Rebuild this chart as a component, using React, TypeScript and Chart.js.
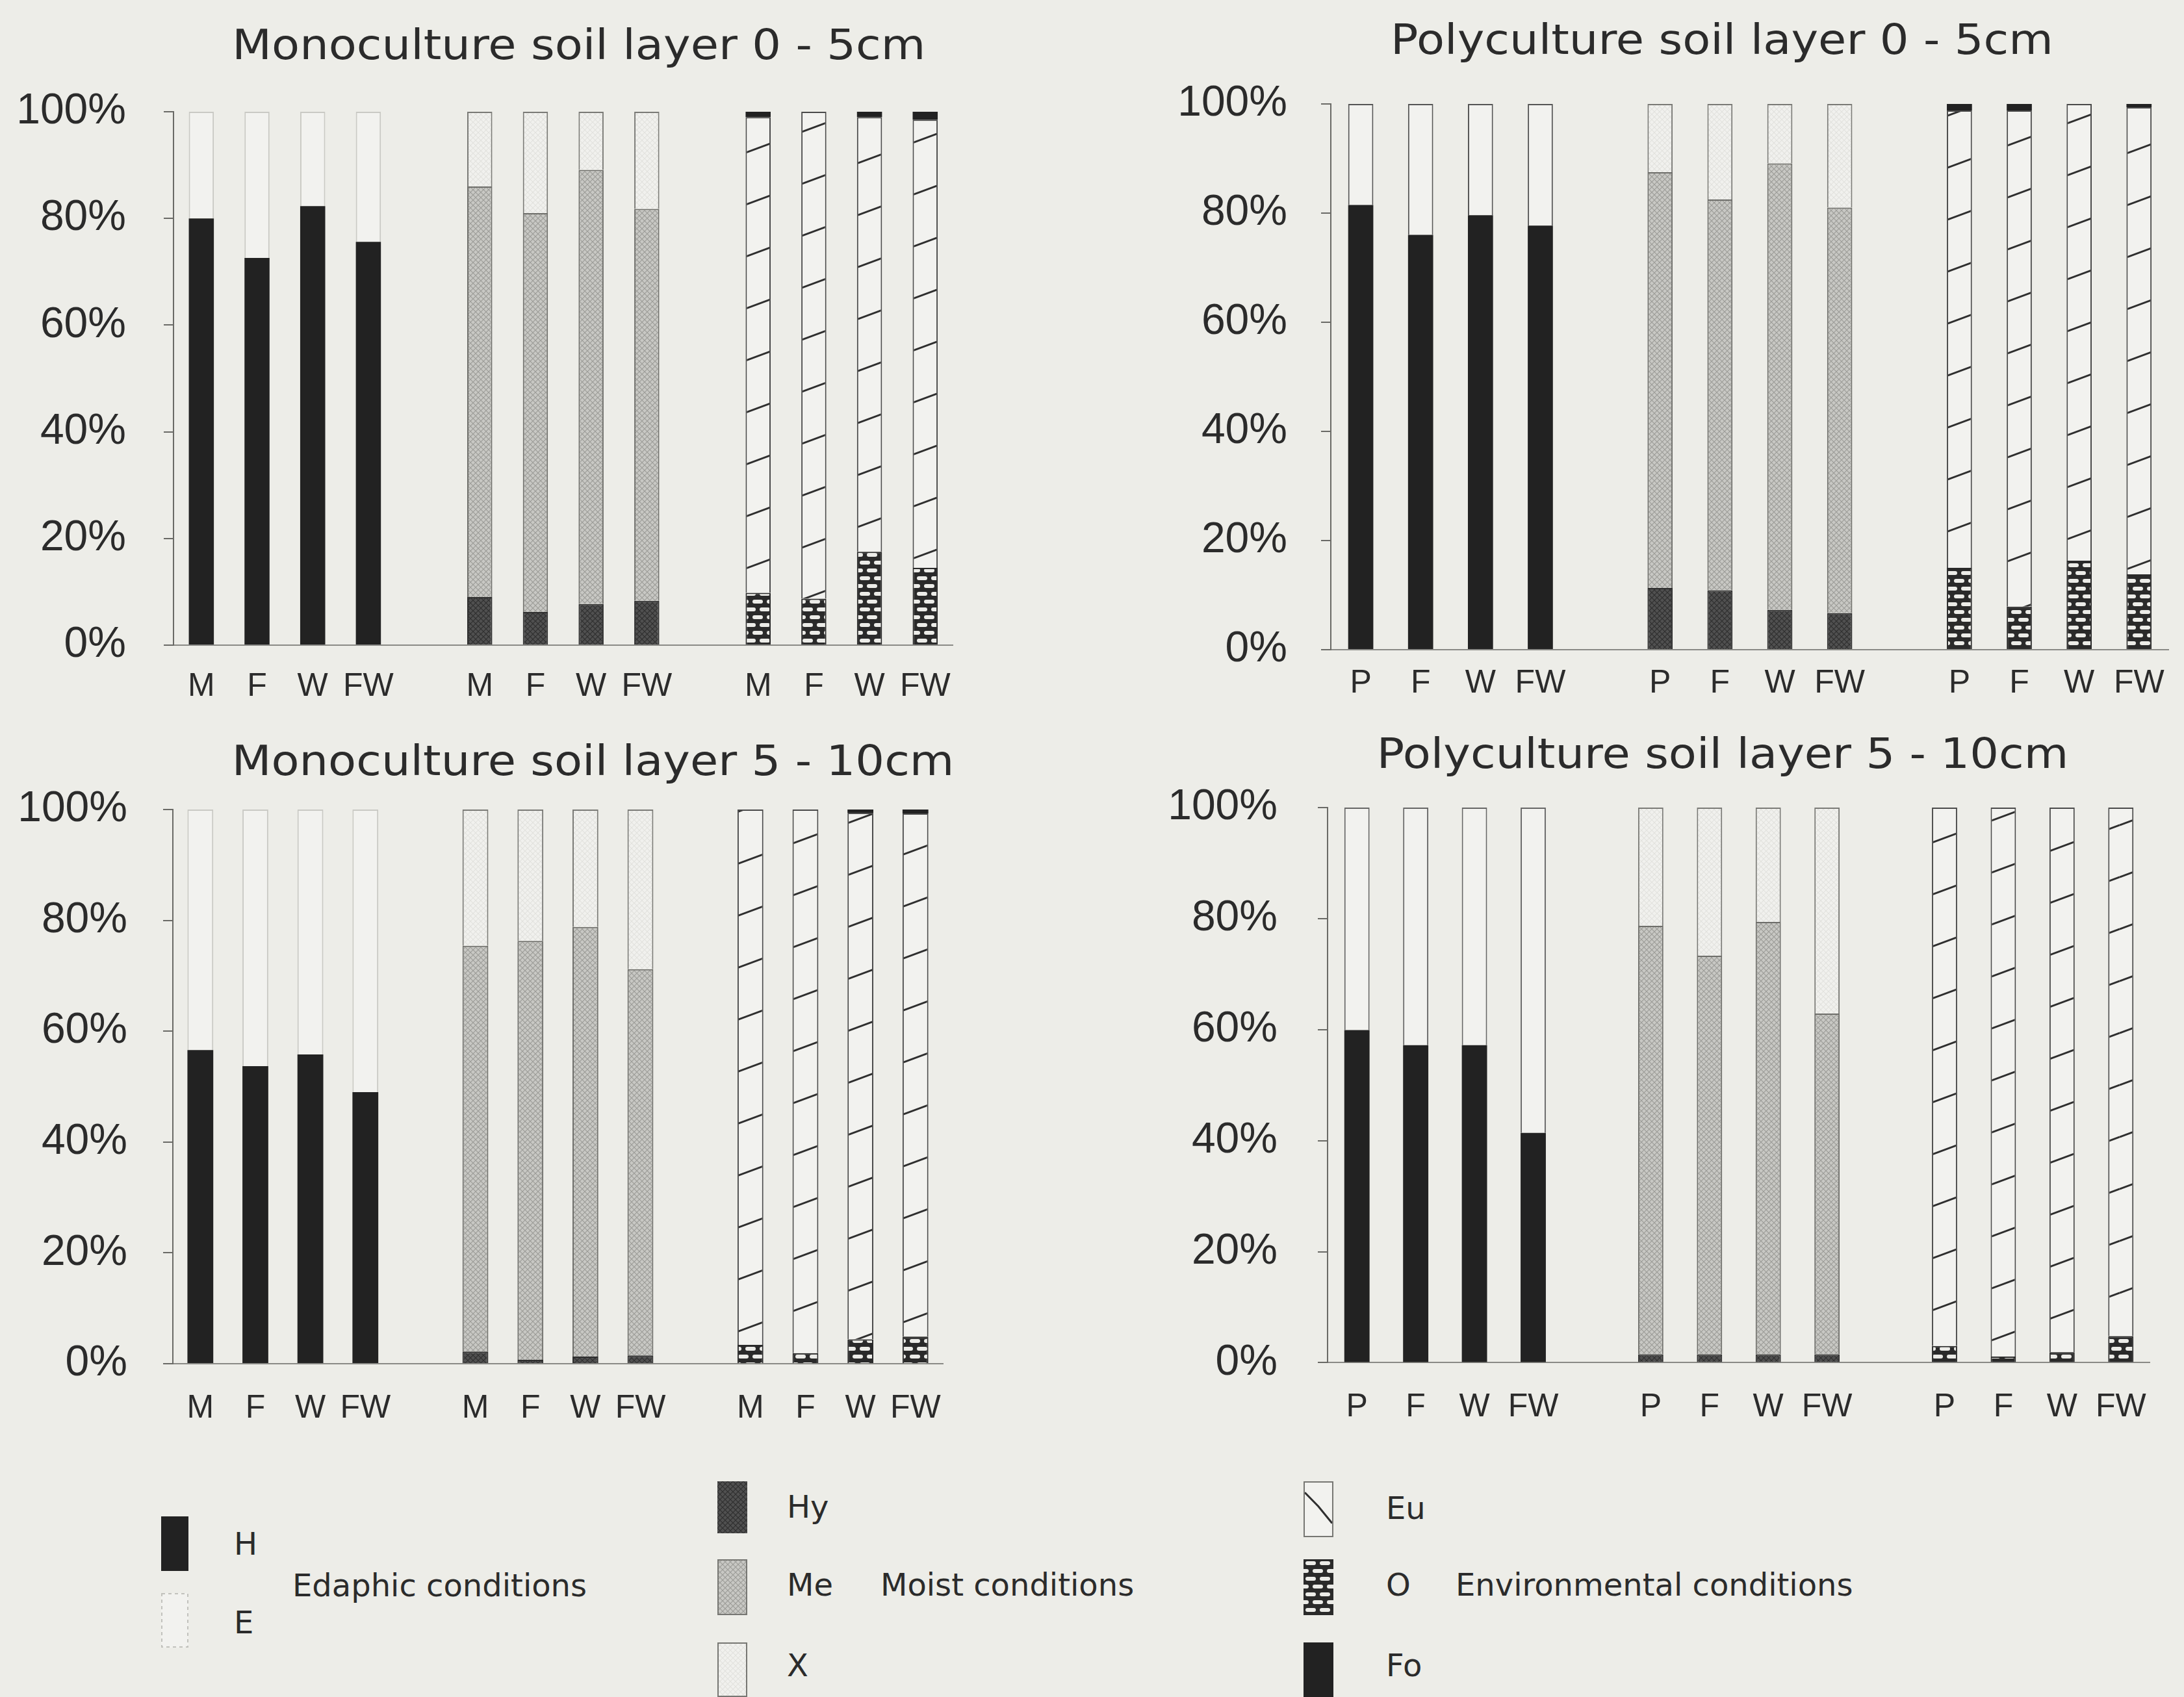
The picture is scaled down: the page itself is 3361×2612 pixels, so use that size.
import React, { useEffect, useRef } from 'react';
import { Chart, registerables } from 'chart.js';

Chart.register(...registerables);

// ---------------- data (percent of species) ----------------
const monoCats = ['M', 'F', 'W', 'FW'];
const polyCats = ['P', 'F', 'W', 'FW'];
const yTicks = [0, 20, 40, 60, 80, 100];

// Monoculture soil layer 0 - 5cm
const mono05H = [80.0, 72.6, 82.3, 75.6];
const mono05E = [20.0, 27.4, 17.7, 24.4];
const mono05Hy = [9.0, 6.2, 7.7, 8.3];
const mono05Me = [77.0, 74.8, 81.4, 73.5];
const mono05X = [14.0, 19.0, 10.9, 18.2];
const mono05O = [9.8, 8.7, 17.5, 14.5];
const mono05Eu = [89.2, 91.3, 81.5, 84.0];
const mono05Fo = [1.0, 0, 1.0, 1.5];

// Polyculture soil layer 0 - 5cm
const poly05H = [81.5, 76.0, 79.6, 77.7];
const poly05E = [18.5, 24.0, 20.4, 22.3];
const poly05Hy = [11.3, 10.9, 7.3, 6.7];
const poly05Me = [76.2, 71.6, 81.8, 74.3];
const poly05X = [12.5, 17.5, 10.9, 19.0];
const poly05O = [15.0, 7.9, 16.3, 13.8];
const poly05Eu = [83.8, 90.9, 83.7, 85.6];
const poly05Fo = [1.2, 1.2, 0, 0.6];

// Monoculture soil layer 5 - 10cm
const mono510H = [56.6, 53.7, 55.8, 49.0];
const mono510E = [43.4, 46.3, 44.2, 51.0];
const mono510Hy = [2.2, 0.7, 1.3, 1.5];
const mono510Me = [73.2, 75.6, 77.5, 69.7];
const mono510X = [24.6, 23.7, 21.2, 28.8];
const mono510O = [3.4, 1.9, 4.4, 4.9];
const mono510Eu = [96.6, 98.1, 95.0, 94.4];
const mono510Fo = [0, 0, 0.6, 0.7];

// Polyculture soil layer 5 - 10cm
const poly510H = [59.9, 57.2, 57.2, 41.4];
const poly510E = [40.1, 42.8, 42.8, 58.6];
const poly510Hy = [1.5, 1.5, 1.5, 1.5];
const poly510Me = [77.2, 71.8, 77.9, 61.4];
const poly510X = [21.3, 26.7, 20.6, 37.1];
const poly510O = [3.0, 1.1, 1.9, 4.8];
const poly510Eu = [97.0, 98.9, 98.1, 95.2];
const poly510Fo = [0, 0, 0, 0];

// ---------------- styles ----------------
const BG = '#edede8';
const INK = '#2b2b2b';
const BLACK = '#222222';
const WHITE = '#f2f2ef';

type Series = { H: number[]; E: number[]; Hy: number[]; Me: number[]; X: number[]; O: number[]; Eu: number[]; Fo: number[] };
type Layout = {
  left: number; top: number; width: number; height: number;
  yW: number; padTop: number; padRight: number; barPct: number;
  yPad: number; xPad: number; titleDx: number; titleRise: number; eBorder: string;
};
type Panel = { title: string; cats: string[]; s: Series; lay: Layout };

const PANELS: Panel[] = [
  {
    title: 'Monoculture soil layer 0 - 5cm', cats: monoCats,
    s: { H: mono05H, E: mono05E, Hy: mono05Hy, Me: mono05Me, X: mono05X, O: mono05O, Eu: mono05Eu, Fo: mono05Fo },
    lay: { left: 0, top: 20, width: 1497, height: 1073, yW: 267, padTop: 152, padRight: 10, barPct: 0.45, yPad: 58, xPad: 34, titleDx: 24, titleRise: 81, eBorder: '#c9c9c4' },
  },
  {
    title: 'Polyculture soil layer 0 - 5cm', cats: polyCats,
    s: { H: poly05H, E: poly05E, Hy: poly05Hy, Me: poly05Me, X: poly05X, O: poly05O, Eu: poly05Eu, Fo: poly05Fo },
    lay: { left: 1750, top: 0, width: 1603, height: 1100, yW: 298, padTop: 160, padRight: 10, barPct: 0.42, yPad: 52, xPad: 22, titleDx: -43, titleRise: 77, eBorder: '#555555' },
  },
  {
    title: 'Monoculture soil layer 5 - 10cm', cats: monoCats,
    s: { H: mono510H, E: mono510E, Hy: mono510Hy, Me: mono510Me, X: mono510X, O: mono510O, Eu: mono510Eu, Fo: mono510Fo },
    lay: { left: 0, top: 1110, width: 1487, height: 1089, yW: 266, padTop: 136, padRight: 10, barPct: 0.47, yPad: 55, xPad: 39, titleDx: 54, titleRise: 53, eBorder: '#c9c9c4' },
  },
  {
    title: 'Polyculture soil layer 5 - 10cm', cats: polyCats,
    s: { H: poly510H, E: poly510E, Hy: poly510Hy, Me: poly510Me, X: poly510X, O: poly510O, Eu: poly510Eu, Fo: poly510Fo },
    lay: { left: 1750, top: 1110, width: 1592, height: 1089, yW: 293, padTop: 133, padRight: 10, barPct: 0.43, yPad: 62, xPad: 39, titleDx: -25, titleRise: 61, eBorder: '#666666' },
  },
];

// ---------------- patterns ----------------
function makeTile(w: number, h: number, draw: (g: CanvasRenderingContext2D) => void) {
  const c = document.createElement('canvas');
  c.width = w; c.height = h;
  draw(c.getContext('2d')!);
  return c;
}
function crossTile(base: string, line: string) {
  return makeTile(8, 8, (g) => {
    g.fillStyle = base; g.fillRect(0, 0, 8, 8);
    g.strokeStyle = line; g.lineWidth = 1.2;
    g.beginPath(); g.moveTo(0, 0); g.lineTo(8, 8); g.moveTo(8, 0); g.lineTo(0, 8); g.stroke();
  });
}
function brickTile() {
  return makeTile(22, 24, (g) => {
    g.fillStyle = '#2a2a2a'; g.fillRect(0, 0, 22, 24);
    g.fillStyle = '#ecece8';
    const rr = (x: number, y: number) => { g.beginPath(); g.roundRect(x, y, 16, 6, 3); g.fill(); };
    rr(3, 3); rr(-8, 15); rr(14, 15);
  });
}
function hatchTile() {
  return makeTile(216, 80, (g) => {
    g.fillStyle = WHITE; g.fillRect(0, 0, 216, 80);
    g.strokeStyle = '#2f2f2f'; g.lineWidth = 3;
    g.beginPath();
    g.moveTo(0, 80); g.lineTo(216, 0);
    g.moveTo(0, 160); g.lineTo(216, 80);
    g.moveTo(0, 0); g.lineTo(216, -80);
    g.stroke();
  });
}
function patterns(ctx: CanvasRenderingContext2D) {
  return {
    Hy: ctx.createPattern(crossTile('#505050', '#303030'), 'repeat')!,
    Me: ctx.createPattern(crossTile('#c8c8c4', '#9d9d99'), 'repeat')!,
    X: ctx.createPattern(crossTile('#f1f1ee', '#e2e2de'), 'repeat')!,
    O: ctx.createPattern(brickTile(), 'repeat')!,
    Eu: ctx.createPattern(hatchTile(), 'repeat')!,
  };
}

// ---------------- helpers ----------------
function spread(vals: number[], group: number): (number | null)[] {
  const out: (number | null)[] = new Array(14).fill(null);
  vals.forEach((v, i) => { out[group * 5 + i] = v; });
  return out;
}

const titlePlugin = {
  id: 'panelTitle',
  afterDraw(chart: any, _args: any, opts: any) {
    const { ctx, chartArea } = chart;
    ctx.save();
    ctx.font = `${opts.size}px "DejaVu Sans"`;
    ctx.fillStyle = INK;
    ctx.textAlign = 'center';
    ctx.textBaseline = 'alphabetic';
    ctx.translate((chartArea.left + chartArea.right) / 2 + opts.dx, chartArea.top - opts.rise);
    ctx.scale(opts.stretch, 1);
    ctx.fillText(opts.text, 0, 0);
    ctx.restore();
  },
};

function buildChart(canvas: HTMLCanvasElement, p: Panel) {
  const ctx = canvas.getContext('2d')!;
  const pt = patterns(ctx);
  const L = p.lay;
  const labels = [...p.cats, '', ...p.cats, '', ...p.cats];
  const ds = (label: string, data: (number | null)[], bg: any, border: string, bw: number) => ({
    label, data, backgroundColor: bg, borderColor: border, borderWidth: bw,
    barPercentage: L.barPct, categoryPercentage: 1, stack: 's',
  });
  const datasets = [
    ds('H', spread(p.s.H, 0), BLACK, BLACK, 0),
    ds('E', spread(p.s.E, 0), WHITE, L.eBorder, 2),
    ds('Hy', spread(p.s.Hy, 1), pt.Hy, '#2e2e2e', 2),
    ds('Me', spread(p.s.Me, 1), pt.Me, '#6e6e6a', 2),
    ds('X', spread(p.s.X, 1), pt.X, '#7a7a76', 2),
    ds('O', spread(p.s.O, 2), pt.O, '#2a2a2a', 2),
    ds('Eu', spread(p.s.Eu, 2), pt.Eu, '#4a4a4a', 2),
    ds('Fo', spread(p.s.Fo, 2), BLACK, BLACK, 0),
  ];
  return new Chart(canvas, {
    type: 'bar',
    data: { labels, datasets },
    plugins: [titlePlugin],
    options: {
      responsive: false,
      animation: false,
      devicePixelRatio: 1,
      layout: { padding: { top: L.padTop, right: L.padRight, left: 0, bottom: 0 } },
      plugins: {
        legend: { display: false },
        tooltip: { enabled: false },
        title: { display: false },
        // @ts-ignore
        panelTitle: { text: p.title, size: 64, stretch: 1.1, dx: L.titleDx, rise: L.titleRise },
      },
      scales: {
        x: {
          stacked: true,
          offset: true,
          grid: { display: false, drawTicks: false },
          border: { display: true, color: '#8a8a86', width: 2, dash: [5, 4] },
          ticks: {
            autoSkip: false, maxRotation: 0, minRotation: 0,
            padding: L.xPad, color: INK,
            font: { family: 'Liberation Sans', size: 50 },
          },
          afterFit: (s: any) => { s.height = 100; },
        },
        y: {
          stacked: true,
          min: 0, max: 100,
          afterBuildTicks: (s: any) => { s.ticks = yTicks.map((v) => ({ value: v })); },
          grid: { drawOnChartArea: false, drawTicks: true, tickLength: 15, color: '#6a6a66', lineWidth: 2 },
          border: { display: true, color: '#6a6a66', width: 2, dash: [7, 5] },
          ticks: {
            padding: L.yPad, color: INK,
            font: { family: 'Liberation Sans', size: 66 },
            callback: (v: any) => `${v}%`,
          },
          afterFit: (s: any) => { s.width = L.yW; },
        },
      },
    },
  } as any);
}

// ---------------- legend ----------------
type Sw = { key: string; x: number; y: number; w: number; h: number };
const SWATCHES: Sw[] = [
  { key: 'H', x: 248, y: 2334, w: 42, h: 84 },
  { key: 'E', x: 248, y: 2452, w: 42, h: 84 },
  { key: 'Hy', x: 1104, y: 2280, w: 46, h: 80 },
  { key: 'Me', x: 1104, y: 2400, w: 46, h: 86 },
  { key: 'X', x: 1104, y: 2528, w: 46, h: 84 },
  { key: 'Eu', x: 2006, y: 2280, w: 46, h: 86 },
  { key: 'O', x: 2006, y: 2400, w: 46, h: 86 },
  { key: 'Fo', x: 2006, y: 2528, w: 46, h: 84 },
];
const LEGEND_TEXT = [
  { t: 'H', x: 360, y: 2376 },
  { t: 'E', x: 360, y: 2497 },
  { t: 'Edaphic conditions', x: 450, y: 2440 },
  { t: 'Hy', x: 1211, y: 2319 },
  { t: 'Me', x: 1211, y: 2439 },
  { t: 'X', x: 1211, y: 2563 },
  { t: 'Moist conditions', x: 1355, y: 2439 },
  { t: 'Eu', x: 2133, y: 2321 },
  { t: 'O', x: 2133, y: 2439 },
  { t: 'Fo', x: 2133, y: 2563 },
  { t: 'Environmental conditions', x: 2240, y: 2439 },
];

function drawSwatch(c: HTMLCanvasElement, key: string) {
  const g = c.getContext('2d')!;
  const pt = patterns(g);
  const w = c.width, h = c.height;
  const fills: Record<string, any> = { H: BLACK, Fo: BLACK, E: WHITE, Hy: pt.Hy, Me: pt.Me, X: pt.X, O: pt.O, Eu: WHITE };
  g.fillStyle = fills[key];
  g.fillRect(0, 0, w, h);
  if (key === 'Eu') {
    g.strokeStyle = '#2f2f2f'; g.lineWidth = 3;
    g.beginPath(); g.moveTo(2, h * 0.2); g.lineTo(w * 0.5, h * 0.45); g.lineTo(w - 2, h * 0.75); g.stroke();
  }
  if (key === 'E' || key === 'X' || key === 'Eu' || key === 'Me') {
    g.strokeStyle = key === 'E' ? '#c2c2bd' : '#777773';
    g.lineWidth = 2;
    if (key === 'E') g.setLineDash([5, 5]);
    g.strokeRect(1, 1, w - 2, h - 2);
  }
}

export default function App() {
  const c0 = useRef<HTMLCanvasElement>(null);
  const c1 = useRef<HTMLCanvasElement>(null);
  const c2 = useRef<HTMLCanvasElement>(null);
  const c3 = useRef<HTMLCanvasElement>(null);
  const refs = [c0, c1, c2, c3];
  const swRefs = useRef<(HTMLCanvasElement | null)[]>([]);

  useEffect(() => {
    const charts = PANELS.map((p, i) => buildChart(refs[i].current!, p));
    SWATCHES.forEach((s, i) => { const c = swRefs.current[i]; if (c) drawSwatch(c, s.key); });
    return () => charts.forEach((c) => c.destroy());
  }, []);

  return (
    <div style={{ position: 'absolute', left: 0, top: 0, width: 3361, height: 2612, background: BG, overflow: 'hidden' }}>
      {PANELS.map((p, i) => (
        <canvas
          key={p.title}
          ref={refs[i]}
          width={p.lay.width}
          height={p.lay.height}
          style={{ position: 'absolute', left: p.lay.left, top: p.lay.top, width: p.lay.width, height: p.lay.height }}
        />
      ))}
      {SWATCHES.map((s, i) => (
        <canvas
          key={s.key}
          ref={(el) => { swRefs.current[i] = el; }}
          width={s.w}
          height={s.h}
          style={{ position: 'absolute', left: s.x, top: s.y, width: s.w, height: s.h }}
        />
      ))}
      {LEGEND_TEXT.map((t) => (
        <div
          key={t.t}
          style={{
            position: 'absolute', left: t.x, top: t.y - 24, fontFamily: '"DejaVu Sans"', fontSize: 48,
            lineHeight: '48px', color: INK, whiteSpace: 'nowrap',
          }}
        >
          {t.t}
        </div>
      ))}
    </div>
  );
}
